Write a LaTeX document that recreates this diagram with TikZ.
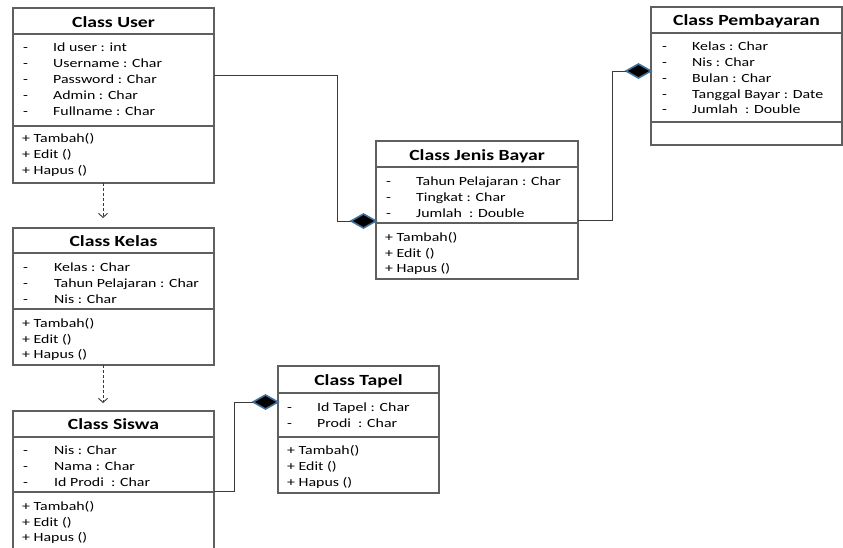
\documentclass[tikz,border=0pt]{standalone}
\usepackage{fontspec}
\setmainfont{Carlito}[FakeStretch=1.27]
\usetikzlibrary{arrows.meta,shapes.geometric}

\definecolor{boxgray}{HTML}{5F5F5F}
\definecolor{linegray}{HTML}{3A3A3A}
\definecolor{aggblue}{HTML}{41719C}

\begin{document}
\begin{tikzpicture}[x=1pt,y=-1pt,
  classbox/.style={draw=boxgray, line width=1.3pt, inner sep=0pt, outer sep=0pt, anchor=north west},
  sepline/.style={draw=boxgray, line width=1.3pt},
  row/.style={anchor=base west, inner sep=0pt, font=\fontsize{12.5}{15}\selectfont},
  ttl/.style={anchor=base, inner sep=0pt, font=\fontsize{15.5}{18}\selectfont\bfseries},
  conn/.style={draw=linegray, line width=1pt},
  dep/.style={draw=linegray, line width=0.9pt, dash pattern=on 3pt off 2pt, -{Straight Barb[length=4pt,width=9pt,line width=0.9pt]}},
  agg/.style={diamond, draw=aggblue, fill=black, line width=1.6pt, minimum width=25pt, minimum height=14pt, inner sep=0pt, outer sep=0pt, anchor=east}
]
\useasboundingbox (0,0) rectangle (843,547);
\clip (0,0) rectangle (843,547);
\fill[white] (0,0) rectangle (843,547);

% ---------- class boxes ----------
\node[classbox, minimum width=201pt, minimum height=175pt] (user)  at (13,8)   {};
\node[classbox, minimum width=201pt, minimum height=137pt] (kelas) at (13,228)  {};
\node[classbox, minimum width=201pt, minimum height=150pt] (siswa) at (13,411)  {};
\node[classbox, minimum width=161pt, minimum height=127pt] (tapel) at (278,366) {};
\node[classbox, minimum width=202pt, minimum height=138pt] (jenis) at (376,141) {};
\node[classbox, minimum width=191pt, minimum height=138pt] (pemb)  at (651,7)   {};

% compartment separators
\foreach \b/\ya/\yb in {user/34/126, kelas/253/309, siswa/437/492, tapel/393/437, jenis/167/223, pemb/33/122}{
  \draw[sepline] (\b.west |- 0,\ya) -- (\b.east |- 0,\ya);
  \draw[sepline] (\b.west |- 0,\yb) -- (\b.east |- 0,\yb);
}

% ---------- Class User ----------
\node[ttl] (userT) at (user.north |- 0,27) {Class User};
\node[row] (ud1) at (23,51) {-}; \node[row] (ua1) at (53,51) {Id user : int};
\node[row] (ud2) at (23,67) {-}; \node[row] (ua2) at (53,67) {Username : Char};
\node[row] (ud3) at (23,83) {-}; \node[row] (ua3) at (53,83) {Password : Char};
\node[row] (ud4) at (23,99) {-}; \node[row] (ua4) at (53,99) {Admin : Char};
\node[row] (ud5) at (23,115) {-}; \node[row] (ua5) at (53,115) {Fullname : Char};
\node[row] (um1) at (22,142) {+ Tambah()};
\node[row] (um2) at (22,158) {+ Edit ()};
\node[row] (um3) at (22,174) {+ Hapus ()};

% ---------- Class Kelas ----------
\node[ttl] (kelasT) at (kelas.north |- 0,246) {Class Kelas};
\node[row] (kd1) at (23,271) {-}; \node[row] (ka1) at (54,271) {Kelas : Char};
\node[row] (kd2) at (23,287) {-}; \node[row] (ka2) at (54,287) {Tahun Pelajaran : Char};
\node[row] (kd3) at (23,303) {-}; \node[row] (ka3) at (54,303) {Nis : Char};
\node[row] (km1) at (22,327) {+ Tambah()};
\node[row] (km2) at (22,343) {+ Edit ()};
\node[row] (km3) at (22,358) {+ Hapus ()};

% ---------- Class Siswa ----------
\node[ttl] (siswaT) at (siswa.north |- 0,429) {Class Siswa};
\node[row] (sd1) at (23,454) {-}; \node[row] (sa1) at (54,454) {Nis : Char};
\node[row] (sd2) at (23,470) {-}; \node[row] (sa2) at (54,470) {Nama : Char};
\node[row] (sd3) at (23,486) {-}; \node[row] (sa3) at (54,486) {Id Prodi~ : Char};
\node[row] (sm1) at (22,510) {+ Tambah()};
\node[row] (sm2) at (22,526) {+ Edit ()};
\node[row] (sm3) at (22,541) {+ Hapus ()};

% ---------- Class Tapel ----------
\node[ttl] (tapelT) at (tapel.north |- 0,385) {Class Tapel};
\node[row] (td1) at (287,411) {-}; \node[row] (ta1) at (317,411) {Id Tapel : Char};
\node[row] (td2) at (287,427) {-}; \node[row] (ta2) at (317,427) {Prodi~ : Char};
\node[row] (tm1) at (287,454) {+ Tambah()};
\node[row] (tm2) at (287,470) {+ Edit ()};
\node[row] (tm3) at (287,486) {+ Hapus ()};

% ---------- Class Jenis Bayar ----------
\node[ttl] (jenisT) at (jenis.north |- 0,160) {Class Jenis Bayar};
\node[row] (jd1) at (386,185) {-}; \node[row] (ja1) at (416,185) {Tahun Pelajaran : Char};
\node[row] (jd2) at (386,201) {-}; \node[row] (ja2) at (416,201) {Tingkat : Char};
\node[row] (jd3) at (386,217) {-}; \node[row] (ja3) at (416,217) {Jumlah~ : Double};
\node[row] (jm1) at (385,241) {+ Tambah()};
\node[row] (jm2) at (385,257) {+ Edit ()};
\node[row] (jm3) at (385,272) {+ Hapus ()};

% ---------- Class Pembayaran ----------
\node[ttl] (pembT) at (pemb.north |- 0,25) {Class Pembayaran};
\node[row] (pd1) at (662,50) {-}; \node[row] (pa1) at (692,50) {Kelas : Char};
\node[row] (pd2) at (662,66) {-}; \node[row] (pa2) at (692,66) {Nis : Char};
\node[row] (pd3) at (662,82) {-}; \node[row] (pa3) at (692,82) {Bulan : Char};
\node[row] (pd4) at (662,98) {-}; \node[row] (pa4) at (692,98) {Tanggal Bayar : Date};
\node[row] (pd5) at (662,113) {-}; \node[row] (pa5) at (692,113) {Jumlah~ : Double};

% ---------- dependencies (dashed) ----------
\coordinate (kTip) at (103,218);
\coordinate (sTip) at (103,403);
\draw[dep] (user.south -| kTip) -- (kTip);
\draw[dep] (kelas.south -| sTip) -- (sTip);

% ---------- aggregations ----------
\node[agg] (aggJ) at (jenis.west |- 0,221) {};
\node[agg] (aggP) at (pemb.west |- 0,71) {};
\node[agg] (aggT) at (tapel.west |- 0,402) {};

\draw[conn] (user.east |- 0,75) -- (337,75) |- (aggJ.west);
\draw[conn] (jenis.east |- 0,220) -- (612,220) |- (aggP.west);
\draw[conn] (siswa.east |- 0,491) -- (234,491) |- (aggT.west);
\end{tikzpicture}
\end{document}
